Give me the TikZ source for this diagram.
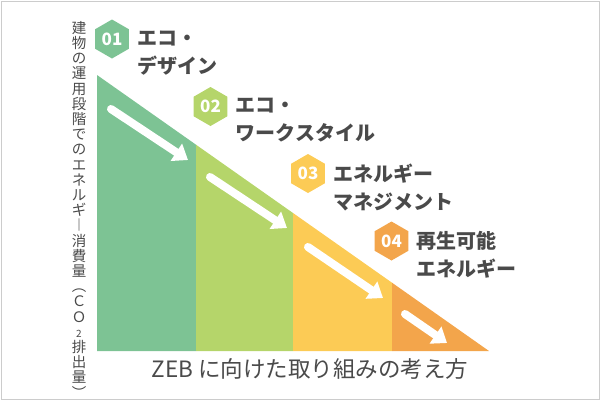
\documentclass[tikz,border=0pt]{standalone}
\usepackage{fontspec}
\setmainfont{Noto Sans CJK JP}
\usetikzlibrary{positioning,shapes.geometric,arrows.meta}
\definecolor{ecogreen}{HTML}{7DC394}
\definecolor{ecolime}{HTML}{B5D56A}
\definecolor{ecoyellow}{HTML}{FCCB55}
\definecolor{ecoorange}{HTML}{F3A54B}
\definecolor{inkgray}{HTML}{4A4A4A}
\newcommand{\smalltwo}{{\fontsize{10}{10}\selectfont 2}}

\begin{document}
\begin{tikzpicture}[x=1pt,y=-1pt,
    badge/.style={regular polygon, regular polygon sides=6, shape border rotate=30,
        minimum size=39pt, inner sep=0pt, text=white,
        font=\bfseries\fontsize{17}{17}\selectfont},
    stepname/.style={align=left, inner sep=0pt, text=inkgray, yshift=-14pt,
        font=\bfseries\fontsize{20}{28}\selectfont},
    downarrow/.style={draw=white, line width=8pt, line cap=round,
        -{Triangle[width=20pt,length=14pt]}}]
    \useasboundingbox (0,0) rectangle (600,400);
    \draw[black!20, line width=1pt] (1.5,1) rectangle (599,399);
    % staircase triangle
    \coordinate (apex) at (97,75);
    \coordinate (tip) at (489,351);
    \fill[ecogreen] (apex) -- (196,144.7) -- (196,351) -- (97,351) -- cycle;
    \fill[ecolime] (196,144.7) -- (293,213) -- (293,351) -- (196,351) -- cycle;
    \fill[ecoyellow] (293,213) -- (392,282.7) -- (392,351) -- (293,351) -- cycle;
    \fill[ecoorange] (392,282.7) -- (tip) -- (392,351) -- cycle;
    % arrows
    \coordinate (a1s) at (111,109);
    \coordinate (a1e) at (188,160);
    \coordinate (a2s) at (210,177);
    \coordinate (a2e) at (287,228);
    \coordinate (a3s) at (308,247);
    \coordinate (a3e) at (383,298);
    \coordinate (a4s) at (405,314);
    \coordinate (a4e) at (447,343);
    \foreach \i in {1,...,4}
        \draw[downarrow] (a\i s) -- (a\i e);
    % badges and names
    \node[badge, fill=ecogreen] (h1) at (112,39) {01};
    \node[badge, fill=ecolime] (h2) at (210.5,106.5) {02};
    \node[badge, fill=ecoyellow] (h3) at (308,173.5) {03};
    \node[badge, fill=ecoorange] (h4) at (391.5,241) {04};
    \node[stepname, right=8pt of h1] (s1) {エコ・\\デザイン};
    \node[stepname, right=8pt of h2] (s2) {エコ・\\ワークスタイル};
    \node[stepname, right=8pt of h3] (s3) {エネルギー\\マネジメント};
    \node[stepname, right=8pt of h4] (s4) {再生可能\\エネルギー};
    % axis texts
    \node[align=center, inner sep=0pt, anchor=north, text=inkgray,
        font=\fontsize{14.5}{15.2}\selectfont] (ylabel) at (79,21)
        {建\\物\\の\\運\\用\\段\\階\\で\\の\\エ\\ネ\\ル\\ギ\\︱\\消\\費\\量\\︵\\Ｃ\\Ｏ\\\smalltwo\\排\\出\\量\\︶};
    \node[inner sep=0pt, text=inkgray, font=\fontsize{22.5}{24}\selectfont]
        (xlabel) at (310,369) {ZEB に向けた取り組みの考え方};
\end{tikzpicture}
\end{document}
